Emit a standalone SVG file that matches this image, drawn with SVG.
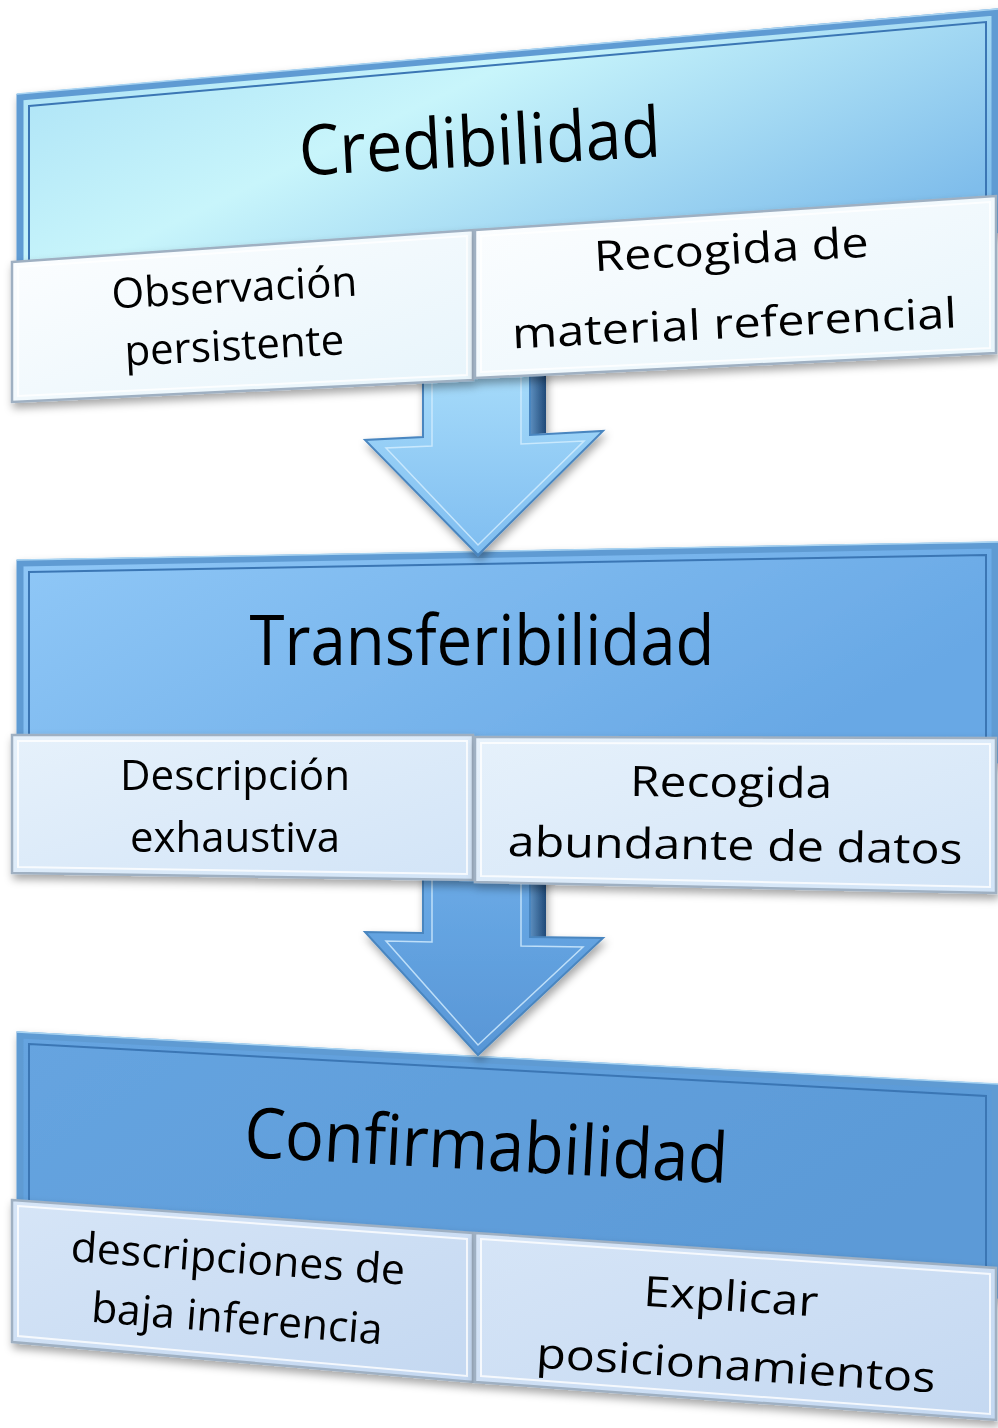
<svg xmlns="http://www.w3.org/2000/svg" width="998" height="1428" viewBox="0 0 998 1428">
<defs>
<style>
.t{font-family:"Open Sans","Noto Sans","Liberation Sans",sans-serif;fill:#000;text-anchor:middle}
.h{font-size:70px}
.s{font-size:42px}
.hb{stroke:#5f9bd3;stroke-width:7;stroke-linejoin:miter}
.hi{fill:none;stroke:#3a76b4;stroke-width:2}
.hl{fill:none;stroke:#a9d4f2;stroke-width:1.5}
.bx{stroke:#9fb0c2;stroke-width:2.5;stroke-linejoin:miter}
.bi{fill:none;stroke:#ffffff;stroke-width:2;opacity:0.8}
.ar{stroke:#4a86c0;stroke-width:2;stroke-linejoin:miter}
.ai{fill:none;stroke:#d6efff;stroke-width:1.5;opacity:0.8}
</style>
<filter id="sh" x="-10%" y="-10%" width="120%" height="130%">
<feDropShadow dx="2" dy="5" stdDeviation="4" flood-color="#000" flood-opacity="0.35"/>
</filter>
<linearGradient id="g1" x1="0" y1="0" x2="1" y2="0.6">
<stop offset="0" stop-color="#a6def5"/><stop offset="0.45" stop-color="#c8f5fb"/><stop offset="1" stop-color="#7fbdeb"/>
</linearGradient>
<linearGradient id="g2" x1="0" y1="0" x2="1" y2="0.4">
<stop offset="0" stop-color="#90c8f7"/><stop offset="1" stop-color="#68a8e5"/>
</linearGradient>
<linearGradient id="g3" x1="0" y1="0" x2="1" y2="0.4">
<stop offset="0" stop-color="#66a4e0"/><stop offset="1" stop-color="#5b9ad7"/>
</linearGradient>
<linearGradient id="b1" x1="0" y1="0" x2="1" y2="1">
<stop offset="0" stop-color="#fdfeff"/><stop offset="1" stop-color="#e6f4fb"/>
</linearGradient>
<linearGradient id="b2" x1="0" y1="0" x2="1" y2="1">
<stop offset="0" stop-color="#e6f1fb"/><stop offset="1" stop-color="#d2e4f7"/>
</linearGradient>
<linearGradient id="b3" x1="0" y1="0" x2="1" y2="1">
<stop offset="0" stop-color="#d6e5f7"/><stop offset="1" stop-color="#c4d8f1"/>
</linearGradient>
<linearGradient id="a1" x1="0" y1="0" x2="0" y2="1">
<stop offset="0" stop-color="#a6dbfa"/><stop offset="1" stop-color="#7fbdf0"/>
</linearGradient>
<linearGradient id="a2" x1="0" y1="0" x2="0" y2="1">
<stop offset="0" stop-color="#6aaae6"/><stop offset="1" stop-color="#5896d6"/>
</linearGradient>
<linearGradient id="ds" x1="0" y1="0" x2="1" y2="0">
<stop offset="0" stop-color="#5d8fc0"/><stop offset="1" stop-color="#1f4a78"/>
</linearGradient>
</defs>
<rect width="998" height="1428" fill="#ffffff"/>

<g id="hdr-credibilidad" filter="url(#sh)">
<polygon class="hb" points="20,97 995,12 995,230 20,290" fill="url(#g1)"/>
<polygon class="hl" points="17,94 998,9"/>
<polygon class="hi" points="29,106 986,22 986,222 29,282"/>
<text class="t h" x="481" y="166" textLength="362" lengthAdjust="spacingAndGlyphs" transform="rotate(-3 481 166)">Credibilidad</text>
</g>

<g id="hdr-transferibilidad" filter="url(#sh)">
<polygon class="hb" points="20,563 995,545 995,760 20,760" fill="url(#g2)"/>
<polygon class="hl" points="17,560 998,542"/>
<polygon class="hi" points="29,572 986,555 986,752 29,752"/>
<text class="t h" x="482" y="665" font-size="66" textLength="465" lengthAdjust="spacingAndGlyphs">Transferibilidad</text>
</g>

<g id="hdr-confirmabilidad" filter="url(#sh)">
<polygon class="hb" points="20,1035 995,1087 995,1295 20,1230" fill="url(#g3)"/>
<polygon class="hl" points="17,1032 998,1084"/>
<polygon class="hi" points="29,1044 986,1096 986,1287 29,1222"/>
<text class="t h" x="485" y="1170" textLength="484" lengthAdjust="spacingAndGlyphs" transform="rotate(3.1 485 1170)">Confirmabilidad</text>
</g>

<g id="connectors">
<g id="arrow-1" filter="url(#sh)">
<polygon points="530,370 546,370 546,433 530,435" fill="url(#ds)"/>
<polygon class="ar" points="423,370 530,370 530,435 603,431 478,555 365,440 423,437" fill="url(#a1)"/>
<polygon class="ai" points="432,370 521,370 521,444 584,441 478,545 386,448 432,446"/>
</g>
<g id="arrow-2" filter="url(#sh)">
<polygon points="530,870 546,870 546,937 530,937" fill="url(#ds)"/>
<polygon class="ar" points="423,870 530,870 530,937 603,938 478,1055 365,932 423,933" fill="url(#a2)"/>
<polygon class="ai" points="432,870 521,870 521,946 583,947 478,1045 386,941 432,942"/>
</g>
</g>

<g id="box-observacion" filter="url(#sh)">
<polygon class="bx" points="12,262 473,230 473,380 12,402" fill="url(#b1)"/>
<polygon class="bi" points="18,267 467,236 467,375 18,396"/>
<text class="t s" x="235" y="302" textLength="246" lengthAdjust="spacingAndGlyphs" transform="rotate(-3 235 302)">Observación</text>
<text class="t s" x="235" y="360" textLength="220" lengthAdjust="spacingAndGlyphs" transform="rotate(-3 235 360)">persistente</text>
</g>

<g id="box-recogida-material" filter="url(#sh)">
<polygon class="bx" points="475,230 996,196 996,353 475,378" fill="url(#b1)"/>
<polygon class="bi" points="481,236 990,202 990,348 481,372"/>
<text class="t s" x="732" y="264" textLength="275" lengthAdjust="spacingAndGlyphs" transform="rotate(-3 732 264)">Recogida de</text>
<text class="t s" x="735" y="338" textLength="445" lengthAdjust="spacingAndGlyphs" transform="rotate(-2.7 735 338)">material referencial</text>
</g>

<g id="box-descripcion" filter="url(#sh)">
<polygon class="bx" points="12,735 473,735 473,880 12,873" fill="url(#b2)"/>
<polygon class="bi" points="18,741 467,741 467,874 18,867"/>
<text class="t s" x="235" y="790" font-size="44" textLength="230" lengthAdjust="spacingAndGlyphs">Descripción</text>
<text class="t s" x="235" y="852" font-size="44" textLength="210" lengthAdjust="spacingAndGlyphs">exhaustiva</text>
</g>

<g id="box-recogida-abundante" filter="url(#sh)">
<polygon class="bx" points="475,737 996,738 996,893 475,882" fill="url(#b2)"/>
<polygon class="bi" points="481,743 990,744 990,887 481,876"/>
<text class="t s" x="731" y="797" font-size="45" textLength="202" lengthAdjust="spacingAndGlyphs" transform="rotate(0.5 731 797)">Recogida</text>
<text class="t s" x="735" y="860" font-size="45" textLength="455" lengthAdjust="spacingAndGlyphs" transform="rotate(1 735 860)">abundante de datos</text>
</g>

<g id="box-descripciones" filter="url(#sh)">
<polygon class="bx" points="12,1200 473,1233 473,1382 12,1342" fill="url(#b3)"/>
<polygon class="bi" points="18,1206 467,1239 467,1376 18,1336"/>
<text class="t s" x="237" y="1273" textLength="335" lengthAdjust="spacingAndGlyphs" transform="rotate(4 237 1273)">descripciones de</text>
<text class="t s" x="236" y="1333" textLength="292" lengthAdjust="spacingAndGlyphs" transform="rotate(4.4 236 1333)">baja inferencia</text>
</g>

<g id="box-explicar" filter="url(#sh)">
<polygon class="bx" points="475,1233 996,1268 996,1420 475,1382" fill="url(#b3)"/>
<polygon class="bi" points="481,1239 990,1274 990,1414 481,1376"/>
<text class="t s" x="730" y="1311" textLength="175" lengthAdjust="spacingAndGlyphs" transform="rotate(3.5 730 1311)">Explicar</text>
<text class="t s" x="735" y="1380" textLength="400" lengthAdjust="spacingAndGlyphs" transform="rotate(3.6 735 1380)">posicionamientos</text>
</g>
</svg>
